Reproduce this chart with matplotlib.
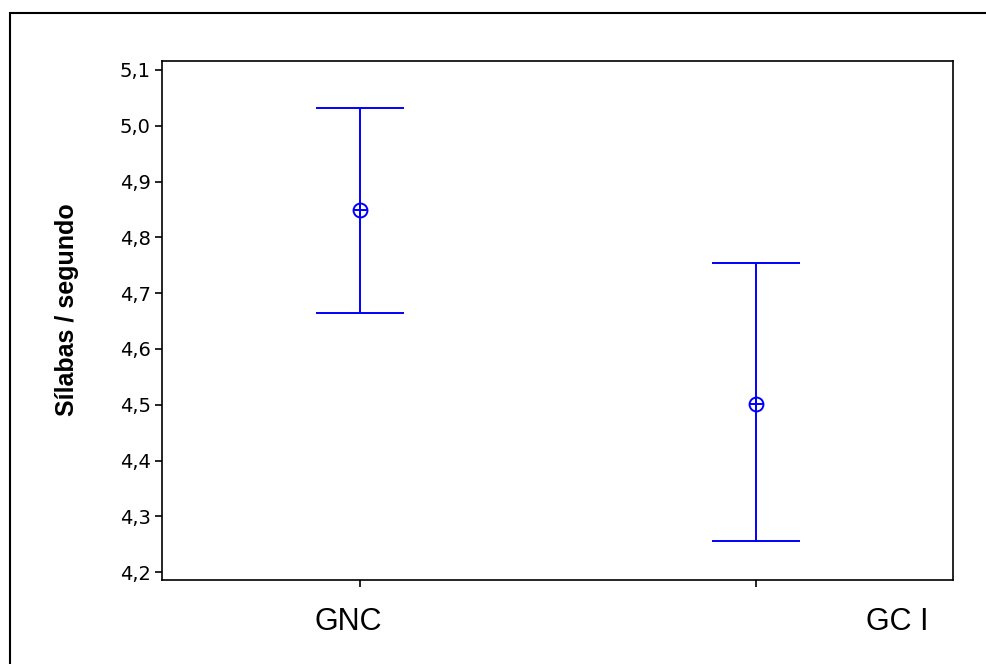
import matplotlib
matplotlib.use("Agg")
import matplotlib.pyplot as plt
from matplotlib.patches import Rectangle

groups = ["GNC", "GC I"]
means = [4.849, 4.502]
upper = [5.031, 4.754]
lower = [4.665, 4.255]
yticks = [4.2, 4.3, 4.4, 4.5, 4.6, 4.7, 4.8, 4.9, 5.0, 5.1]


def plot_intervals():
    fig = plt.figure(figsize=(9.87, 6.64), dpi=100)
    ax = fig.add_axes([0.1646, 0.1265, 0.8014, 0.7816])

    xs = [1, 2]
    err_lo = [m - l for m, l in zip(means, lower)]
    err_hi = [u - m for m, u in zip(means, upper)]
    ax.errorbar(xs, means, yerr=[err_lo, err_hi], fmt="none", ecolor="#0000ff",
                elinewidth=1.4, capsize=32, capthick=1.4)
    ax.plot(xs, means, "o", ms=10, mfc="none", mec="#0000ff", mew=1.4)
    ax.plot(xs, means, "+", ms=10, mec="#0000ff", mew=1.4)

    ax.set_xlim(0.5, 2.5)
    ax.set_ylim(4.186, 5.116)
    ax.set_xticks(xs)
    ax.set_xticklabels(["", ""])
    ax.set_yticks(yticks)
    ax.set_yticklabels([f"{t:.1f}".replace(".", ",") for t in yticks],
                       fontsize=14, family="DejaVu Sans")
    ax.tick_params(direction="out", length=5, width=1.2, colors="black")
    for s in ax.spines.values():
        s.set_linewidth(1.2)

    for lab, xpos in zip(groups, [348, 897]):
        fig.text(xpos / 987, 0.0633, lab, ha="center", va="center",
                 fontsize=22, family=["Liberation Sans", "DejaVu Sans"])

    fig.text(67 / 987, 0.533, "Sílabas / segundo", rotation=90,
             ha="center", va="center", fontsize=18, weight="bold",
             family=["Liberation Sans", "DejaVu Sans"])

    fig.patches.append(Rectangle((10 / 987, -0.1), 1.2, 1.1 - 13 / 664,
                                 transform=fig.transFigure, fill=False,
                                 lw=1.5, ec="black"))
    fig.savefig("out.png", dpi=100)


if __name__ == "__main__":
    plot_intervals()
